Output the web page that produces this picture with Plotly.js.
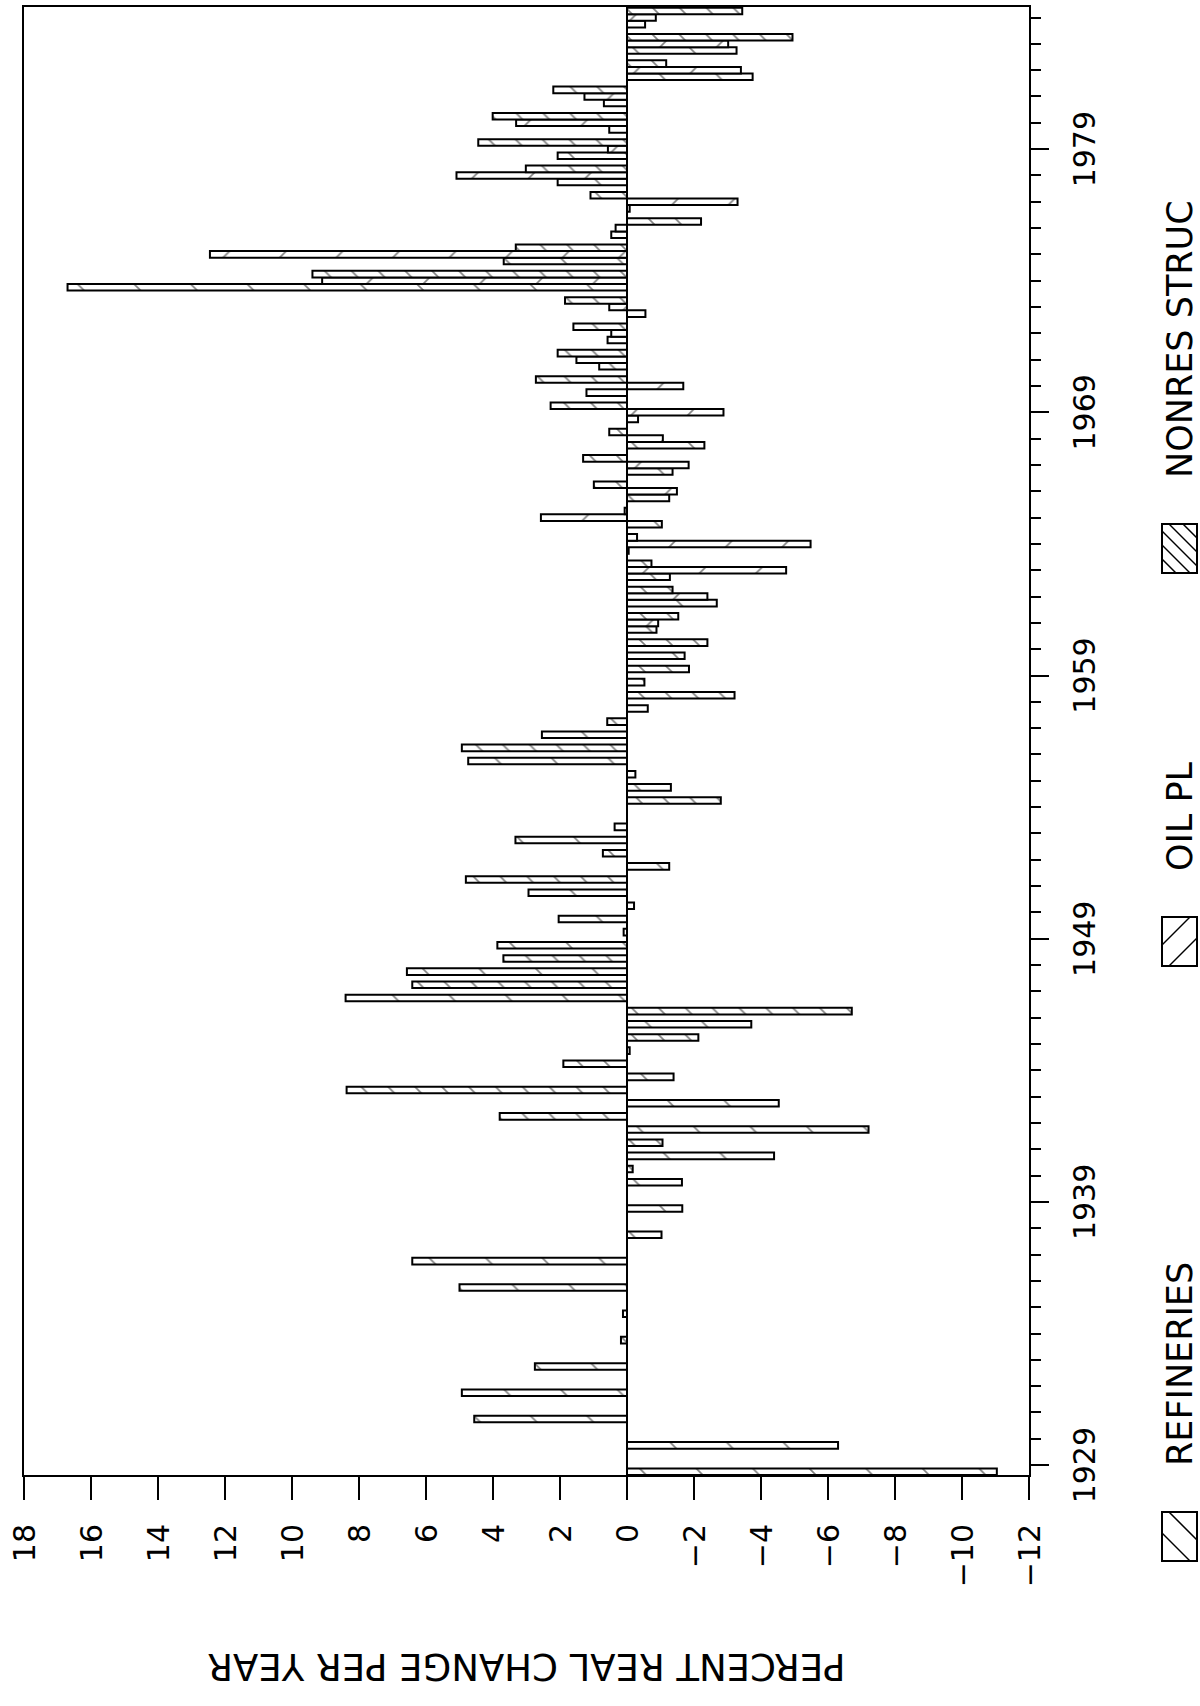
<!DOCTYPE html>
<html><head><meta charset="utf-8">
<script src="https://cdn.plot.ly/plotly-3.0.1.min.js"></script>
<style>
html,body{margin:0;padding:0;background:#fff;width:1200px;height:1706px;overflow:hidden}
#wrap{position:absolute;left:0;top:0;width:1706px;height:1200px;transform-origin:0 0;transform:translate(0px,1706px) rotate(-90deg)}
#chart{width:1706px;height:1200px}
</style></head><body>
<div id="wrap"><div id="chart"></div></div>
<script>
// ---- data (percent real change per year) ----
const years = [1929,1930,1931,1932,1933,1934,1935,1936,1937,1938,
  1939,1940,1941,1942,1943,1944,1945,1946,1947,1948,
  1949,1950,1951,1952,1953,1954,1955,1956,1957,1958,
  1959,1960,1961,1962,1963,1964,1965,1966,1967,1968,
  1969,1970,1971,1972,1973,1974,1975,1976,1977,1978,
  1979,1980,1981,1982,1983,1984];
const refineries = [-11.04,-6.30,4.56,4.93,2.75,0.18,0.12,5.00,6.41,-1.03,
  -1.65,-1.64,-4.39,-7.21,-4.53,-1.39,-0.08,-3.71,8.40,6.57,
  3.87,2.04,2.94,-1.26,3.33,null,-1.31,4.74,2.54,-0.62,
  -0.52,-1.72,-0.88,-2.68,-1.28,-0.05,-1.04,-1.26,-1.36,-2.31,
  -0.33,1.21,0.83,0.58,-0.55,16.70,3.68,0.47,-0.08,2.07,
  2.07,0.53,0.69,-3.75,-3.27,-0.54];
const oilPipelines = [null,null,null,null,null,null,null,null,null,null,
  null,null,null,null,null,null,null,null,null,null,
  null,null,null,null,null,null,null,null,null,null,
  null,null,-0.93,-2.40,-4.75,-5.48,2.57,-1.49,-1.84,-1.07,
  -2.88,-1.68,1.51,0.47,0.53,9.10,12.45,0.34,-3.30,5.09,
  0.57,3.31,1.27,-3.40,-3.02,-0.86];
const nonresStruc = [null,null,null,null,null,null,null,null,null,null,
  null,-0.17,-1.06,3.80,8.37,1.90,-2.13,-6.71,6.41,3.69,
  0.10,-0.21,4.81,0.72,0.37,-2.80,-0.25,4.93,0.59,-3.21,
  -1.85,-2.40,-1.53,-1.36,-0.73,-0.30,0.07,0.99,1.31,0.53,
  2.28,2.72,2.07,1.60,1.85,9.39,3.32,-2.21,1.09,3.02,
  4.44,4.01,2.20,-1.17,-4.94,-3.44];
const seriesNames = ['REFINERIES','OIL PL','NONRES STRUC'];
const valueTicks = [18,16,14,12,10,8,6,4,2,0,-2,-4,-6,-8,-10,-12];
const yearTicks = [1929,1939,1949,1959,1969,1979];
const axisTitle = 'PERCENT REAL CHANGE PER YEAR';

// ---- layout geometry (unrotated frame, 1706 x 1200) ----
const W = 1706, H = 1200;
const M = {l:231, r:7, t:24, b:171};
const PW = W - M.l - M.r, PH = H - M.t - M.b;
const px2x = p => (p - M.l) / PW;
const px2y = p => 1 - (p - M.t) / PH;

const hatchStyles = [
  {shape:'/', size:40, solidity:0.04},
  {shape:'\\', size:40, solidity:0.04},
  {shape:'/', size:19, solidity:0.085}
];
const seriesValues = [refineries, oilPipelines, nonresStruc];

const traces = seriesValues.map((vals, i) => ({
  type:'bar', x: years, y: vals, name: seriesNames[i], showlegend:false,
  marker:{color:'#ffffff', line:{color:'#000', width:2},
    pattern:{shape:hatchStyles[i].shape, size:hatchStyles[i].size, solidity:hatchStyles[i].solidity,
      fgcolor:'#000', bgcolor:'#fff', fillmode:'overlay'}}
}));

// ---- custom legend (boxes + hatch + text) ----
const legendItems = [
  {box:[145,194], textX:238, lines:2, dir:'/'},
  {box:[740,789], textX:833, lines:2, dir:'\\'},
  {box:[1133,1182], textX:1226, lines:5, dir:'/'}
];
const LY0 = 1162, LY1 = 1197;
const shapes = [];
const annotations = [];
function hatch(x0,y0,x1,y1,n,dir){
  const segs = [];
  if(dir === '/'){
    const cmin = x0 + y0, cmax = x1 + y1;
    for(let k=1;k<=n;k++){
      const c = cmin + k*(cmax-cmin)/(n+1);
      const xa = Math.max(x0, c - y1), xb = Math.min(x1, c - y0);
      segs.push([xa, c - xa, xb, c - xb]);
    }
  } else {
    const cmin = y0 - x1, cmax = y1 - x0;
    for(let k=1;k<=n;k++){
      const c = cmin + k*(cmax-cmin)/(n+1);
      const xa = Math.max(x0, y0 - c), xb = Math.min(x1, y1 - c);
      segs.push([xa, xa + c, xb, xb + c]);
    }
  }
  return segs;
}
legendItems.forEach((it, i) => {
  shapes.push({type:'rect', xref:'paper', yref:'paper',
    x0:px2x(it.box[0]), x1:px2x(it.box[1]), y0:px2y(LY1), y1:px2y(LY0),
    line:{color:'#000', width:2}, fillcolor:'rgba(0,0,0,0)'});
  hatch(it.box[0], LY0, it.box[1], LY1, it.lines, it.dir).forEach(s => {
    shapes.push({type:'line', xref:'paper', yref:'paper',
      x0:px2x(s[0]), y0:px2y(s[1]), x1:px2x(s[2]), y1:px2y(s[3]),
      line:{color:'#000', width:1.5}});
  });
  annotations.push({xref:'paper', yref:'paper', x:px2x(it.textX), y:px2y((LY0+LY1)/2),
    xanchor:'left', yanchor:'middle', showarrow:false, text:seriesNames[i],
    font:{size:35, color:'#000'}});
});
annotations.push({xref:'paper', yref:'paper', x:px2x(40), y:0.5, xanchor:'center', yanchor:'middle',
  textangle:-90, showarrow:false, text:axisTitle, font:{size:37, color:'#000'}});

const layout = {
  width:W, height:H, margin:M,
  paper_bgcolor:'#fff', plot_bgcolor:'#fff',
  font:{family:'DejaVu Sans, Liberation Sans, sans-serif', color:'#000', size:30},
  barmode:'group', bargap:0.25, bargroupgap:0,
  showlegend:false,
  xaxis:{range:[1928.625, 1984.4], tickmode:'array', tickvals:yearTicks,
    ticks:'outside', ticklen:18, tickwidth:2, tickcolor:'#000',
    minor:{tickmode:'linear', tick0:1929, dtick:1, ticks:'outside', ticklen:10, tickwidth:2, tickcolor:'#000', showgrid:false},
    showline:true, linecolor:'#000', linewidth:2, mirror:true,
    showgrid:false, zeroline:false, tickfont:{size:30}, ticklabelstandoff:10},
  yaxis:{range:[-12, 18], tickmode:'array', tickvals:valueTicks,
    ticks:'outside', ticklen:23, tickwidth:2, tickcolor:'#000',
    showline:true, linecolor:'#000', linewidth:2, mirror:true,
    showgrid:false, zeroline:true, zerolinecolor:'#000', zerolinewidth:2,
    tickfont:{size:30}, ticklabelstandoff:18},
  shapes:shapes, annotations:annotations
};
Plotly.newPlot('chart', traces, layout, {displayModeBar:false, staticPlot:true});
</script>
</body></html>
